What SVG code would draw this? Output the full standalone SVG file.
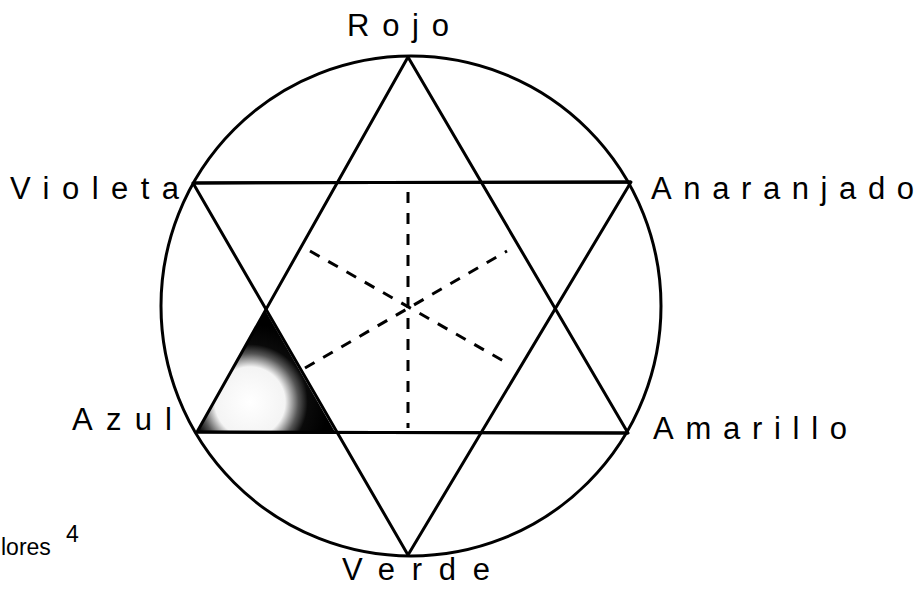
<svg xmlns="http://www.w3.org/2000/svg" width="915" height="591" viewBox="0 0 915 591">
<defs>
<radialGradient id="azulShade" gradientUnits="userSpaceOnUse" cx="250" cy="402" r="78">
<stop offset="0" stop-color="#ffffff"/>
<stop offset="0.45" stop-color="#f4f4f4"/>
<stop offset="0.62" stop-color="#555"/>
<stop offset="0.74" stop-color="#0a0a0a"/>
<stop offset="1" stop-color="#000"/>
</radialGradient>
</defs>
<style>
.ln{fill:none;stroke:#000;stroke-width:3;stroke-linejoin:round}
.ds{fill:none;stroke:#000;stroke-width:3;stroke-dasharray:11 10}
.lb{font-family:"Liberation Sans",Arial,sans-serif;font-size:31px;fill:#000}
.cap{font-family:"Liberation Sans",Arial,sans-serif;font-size:23px;fill:#000}
</style>
<rect width="915" height="591" fill="#fff"/>
<g id="shading">
<polygon points="197,432 265,310 335,432" fill="url(#azulShade)"/>
</g>
<g id="connectors">
<circle cx="411" cy="306" r="250" class="ln"/>
<polygon points="408,57 628,433 197,432" class="ln"/>
<polygon points="193,183 631,182 408,555" class="ln"/>
<line x1="197" y1="432" x2="628" y2="433" class="ln" stroke-width="4"/>
<line x1="193" y1="183" x2="631" y2="182" class="ln" stroke-width="4"/>
<line x1="408" y1="192" x2="408" y2="428" class="ds"/>
<line x1="310" y1="251" x2="507" y2="363" class="ds"/>
<line x1="305" y1="368" x2="507" y2="251" class="ds"/>
</g>
<g id="rojo"><text x="347" y="36" class="lb" textLength="102" lengthAdjust="spacing">Rojo</text></g>
<g id="violeta"><text x="10" y="199" class="lb" textLength="169" lengthAdjust="spacing">Violeta</text></g>
<g id="anaranjado"><text x="651" y="199" class="lb" textLength="263" lengthAdjust="spacing">Anaranjado</text></g>
<g id="azul"><text x="72" y="430" class="lb" textLength="100" lengthAdjust="spacing">Azul</text></g>
<g id="amarillo"><text x="653" y="439" class="lb" textLength="194" lengthAdjust="spacing">Amarillo</text></g>
<g id="verde"><text x="342" y="580" class="lb" textLength="148" lengthAdjust="spacing">Verde</text></g>
<g id="caption"><text x="1" y="555" class="cap">lores</text><text x="66" y="542" class="cap" font-size="12">4</text></g>
</svg>
